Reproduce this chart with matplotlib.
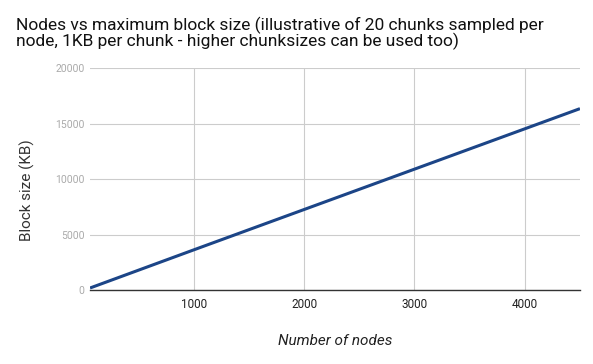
import matplotlib
matplotlib.use("Agg")
import matplotlib.pyplot as plt

# Data
nodes = [60, 1000, 2000, 3000, 4000, 4500]
block_kb = [180, 3620, 7260, 10900, 14540, 16360]

x_ticks = [1000, 2000, 3000, 4000]
y_ticks = [0, 5000, 10000, 15000, 20000]

plt.rcParams["font.family"] = ["Roboto", "DejaVu Sans"]

fig = plt.figure(figsize=(5.93, 3.64), dpi=100)
ax = fig.add_axes([0.1518, 0.2033, 0.978 - 0.1518, 0.8124 - 0.2033])

ax.plot(nodes, block_kb, color="#1c4587", linewidth=2.2, solid_capstyle="butt")

ax.set_xlim(60, 4500)
ax.set_ylim(0, 20000)
ax.set_xticks(x_ticks)
ax.set_yticks(y_ticks)
ax.tick_params(axis="x", length=0, labelsize=8.5, labelcolor="#222222", pad=6)
ax.tick_params(axis="y", length=0, labelsize=7.5, labelcolor="#aaaaaa", pad=4)
ax.grid(True, color="#cccccc", linewidth=0.8)
ax.set_axisbelow(True)

for side in ["top", "right", "left"]:
    ax.spines[side].set_visible(False)
ax.spines["bottom"].set_color("#333333")
ax.spines["bottom"].set_linewidth(1.0)

ax.set_xlabel("Number of nodes", fontsize=11, style="italic", color="#222222", labelpad=16)
ax.set_ylabel("Block size (KB)", fontsize=11, color="#333333")
ax.yaxis.set_label_coords(-0.112, 0.45)

fig.text(0.027, 0.955,
         "Nodes vs maximum block size (illustrative of 20 chunks sampled per\n"
         "node, 1KB per chunk - higher chunksizes can be used too)",
         fontsize=12.5, color="#111111", va="top", ha="left", linespacing=0.95)

fig.savefig("out.png", dpi=100)
